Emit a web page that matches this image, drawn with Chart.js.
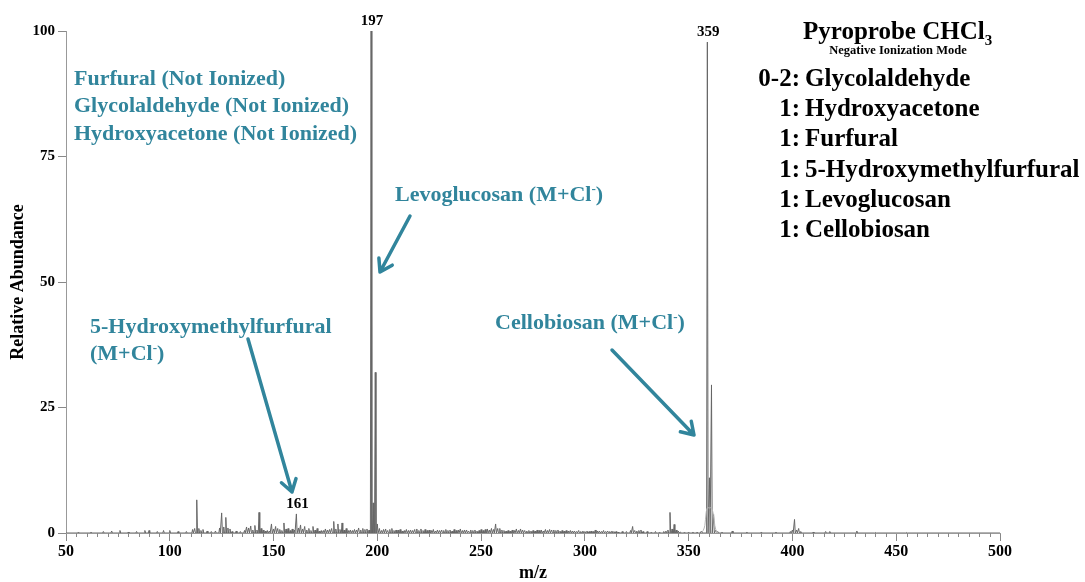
<!DOCTYPE html>
<html>
<head>
<meta charset="utf-8">
<script src="https://cdn.jsdelivr.net/npm/chart.js@4.4.1/dist/chart.umd.min.js"></script>
<style>
  html, body { margin: 0; padding: 0; background: #ffffff; }
  #wrap { width: 1085px; height: 582px; }
</style>
</head>
<body>
<div id="wrap"><canvas id="ms" width="1085" height="582"></canvas></div>
<script>
// Centroid peaks of the negative-ion pyroprobe spectrum (m/z, relative abundance %)
const peakMz = [
  56, 62, 68, 72, 76, 80, 84, 88, 90, 94, 97, 100, 104, 108, 111, 112,
  113, 114, 115, 116, 118, 120, 122, 124, 125, 126, 127, 128, 129, 130, 132, 134, 136,
  137, 138, 139, 140, 141, 142, 143, 144, 145, 146, 147, 148, 149, 150, 151, 152, 153,
  154, 155, 156, 157, 158, 159, 160, 161, 162, 163, 164, 165, 166, 167, 168, 169, 170,
  171, 172, 173, 174, 175, 176, 177, 178, 179, 180, 181, 182, 183, 184, 185, 186, 187,
  188, 189, 190, 191, 192, 193, 194, 195, 196, 197, 198, 199, 200, 201, 202, 203, 204,
  205, 206, 207, 208, 209, 210, 211, 212, 213, 214, 215, 216, 217, 218, 219, 220, 221,
  222, 223, 224, 225, 226, 227, 228, 229, 230, 231, 232, 233, 234, 235, 236, 237, 238,
  239, 240, 241, 242, 243, 244, 245, 246, 247, 248, 249, 250, 251, 252, 253, 254, 255,
  256, 257, 258, 259, 260, 261, 262, 263, 264, 265, 266, 267, 268, 269, 270, 271, 272,
  273, 274, 275, 276, 277, 278, 279, 280, 281, 282, 283, 284, 285, 286, 287, 288, 289,
  290, 291, 292, 293, 294, 295, 296, 297, 298, 299, 300, 301, 302, 303, 304, 305, 306,
  307, 308, 309, 310, 311, 312, 313, 314, 315, 316, 318, 320, 322, 323, 324, 325, 326,
  327, 328, 330, 332, 334, 336, 338, 339, 340, 341, 342, 343, 344, 345, 346, 348, 350,
  352, 354, 356, 359, 360, 361, 362, 363, 364, 366, 371, 378, 385, 392, 399, 400, 401,
  402, 403, 404, 410, 416, 418, 431, 440, 455
];
const peakAbundance = [
  0.2, 0.2, 0.3, 0.4, 0.5, 0.2, 0.3, 0.5, 0.5, 0.3, 0.5, 0.5, 0.3, 0.3, 0.7, 0.9,
  6.6, 0.9, 0.5, 0.7, 0.4, 0.3, 0.4, 1.0, 4.0, 1.2, 3.1, 1.0, 0.8, 0.3, 0.4, 0.3, 0.5,
  1.2, 1.0, 1.4, 0.6, 1.5, 0.6, 4.1, 0.9, 0.6, 0.4, 0.5, 0.4, 1.8, 0.8, 1.3, 0.9, 0.7,
  0.5, 2.0, 0.8, 0.9, 0.5, 0.8, 0.6, 3.8, 1.0, 1.6, 0.8, 1.3, 0.6, 0.9, 0.5, 1.3, 0.6,
  0.9, 0.4, 0.5, 0.5, 0.8, 0.6, 0.7, 0.9, 2.3, 0.8, 1.8, 0.7, 2.0, 0.6, 0.9, 0.5, 0.6,
  0.5, 0.7, 0.6, 1.0, 0.6, 0.9, 0.7, 0.8, 0.6, 100, 6.0, 32, 1.8, 0.9, 0.5, 0.7, 0.8,
  0.5, 0.7, 0.9, 0.5, 0.6, 0.6, 0.7, 0.4, 0.5, 0.7, 0.5, 0.6, 0.5, 0.7, 0.8, 0.5, 0.8,
  0.5, 0.7, 0.5, 0.6, 0.5, 0.7, 0.4, 0.6, 0.5, 0.6, 0.5, 0.7, 0.5, 0.6, 0.4, 0.7, 0.5,
  0.6, 0.8, 0.5, 0.6, 0.6, 0.4, 0.6, 0.5, 0.6, 0.4, 0.5, 0.7, 0.5, 0.7, 0.8, 0.6, 0.9,
  0.7, 1.8, 0.9, 0.9, 0.6, 0.5, 0.4, 0.5, 0.4, 0.6, 0.5, 0.8, 0.5, 0.8, 0.6, 0.5, 0.4,
  0.5, 0.4, 0.5, 0.4, 0.6, 0.5, 0.6, 0.4, 0.7, 0.5, 0.7, 0.6, 0.6, 0.5, 0.6, 0.4, 0.5,
  0.4, 0.5, 0.4, 0.5, 0.4, 0.4, 0.3, 0.5, 0.3, 0.4, 0.3, 0.4, 0.3, 0.4, 0.3, 0.6, 0.4,
  0.4, 0.3, 0.5, 0.3, 0.4, 0.3, 0.4, 0.3, 0.3, 0.2, 0.3, 0.3, 0.5, 1.3, 0.5, 0.4, 0.5,
  0.6, 0.3, 0.3, 0.2, 0.3, 0.2, 0.3, 0.4, 0.6, 4.1, 0.8, 1.7, 0.6, 0.4, 0.2, 0.2, 0.2,
  0.2, 0.2, 0.3, 97.8, 11, 29.5, 3.8, 0.6, 0.3, 0.2, 0.4, 0.2, 0.2, 0.2, 0.3, 0.6, 2.7,
  0.6, 0.9, 0.3, 0.2, 0.3, 0.3, 0.4, 0.1, 0.1
];
// Broad unresolved base under the m/z 359 cluster
const baseMz = [356.0, 357.0, 357.8, 358.4, 359.0, 360.0, 361.0, 362.0, 362.6, 363.5];
const baseAbundance = [0, 0.5, 1.5, 4.0, 5.0, 5.0, 5.0, 3.5, 1.5, 0];

// Axis settings
const xMin = 50, xMax = 500, xStep = 50, xMinorStep = 5;
const yMin = 0, yMax = 100, yStep = 25;
// m/z values that carry a numeric label above their peak
const labelledMz = [197, 359, 161];

const SERIF = "'Liberation Serif', 'Times New Roman', serif";
const TEAL = '#31859c';

// profile trace: each centroid drawn as a narrow spike from the baseline
const trace = [{ x: xMin, y: 0 }];
peakMz.forEach((m, i) => {
  trace.push({ x: m - 0.35, y: 0 }, { x: m, y: peakAbundance[i] }, { x: m + 0.35, y: 0 });
});
trace.push({ x: xMax, y: 0 });
const baseTrace = baseMz.map((m, i) => ({ x: m, y: baseAbundance[i] }));

function richText(ctx, x, y, parts, size, color) {
  ctx.fillStyle = color;
  ctx.textAlign = 'left';
  ctx.textBaseline = 'alphabetic';
  let cx = x;
  parts.forEach(p => {
    const s = p.sup || p.sub ? Math.round(size * 0.6) : size;
    ctx.font = 'bold ' + s + 'px ' + SERIF;
    const dy = p.sup ? -size * 0.38 : (p.sub ? size * 0.22 : 0);
    ctx.fillText(p.t, cx, y + dy);
    cx += ctx.measureText(p.t).width;
  });
}

function arrow(ctx, x1, y1, x2, y2) {
  const a = Math.atan2(y2 - y1, x2 - x1);
  const head = 14, spread = Math.PI / 5.5;
  ctx.save();
  ctx.strokeStyle = TEAL;
  ctx.lineWidth = 3.5;
  ctx.lineCap = 'round';
  ctx.lineJoin = 'round';
  ctx.beginPath();
  ctx.moveTo(x1, y1);
  ctx.lineTo(x2, y2);
  ctx.moveTo(x2 - head * Math.cos(a - spread), y2 - head * Math.sin(a - spread));
  ctx.lineTo(x2, y2);
  ctx.lineTo(x2 - head * Math.cos(a + spread), y2 - head * Math.sin(a + spread));
  ctx.stroke();
  ctx.restore();
}

const decorations = {
  id: 'decorations',
  afterDraw(chart) {
    const ctx = chart.ctx;
    const xs = chart.scales.x, ys = chart.scales.y;
    const area = chart.chartArea;
    ctx.save();

    // minor x ticks
    ctx.strokeStyle = '#888';
    ctx.lineWidth = 1;
    ctx.beginPath();
    for (let v = xMin; v <= xMax; v += xMinorStep) {
      if (v % xStep === 0) continue;
      const px = Math.round(xs.getPixelForValue(v)) + 0.5;
      ctx.moveTo(px, area.bottom);
      ctx.lineTo(px, area.bottom + 4);
    }
    ctx.stroke();

    // peak labels
    ctx.fillStyle = '#000';
    ctx.font = 'bold 15px ' + SERIF;
    ctx.textAlign = 'center';
    ctx.textBaseline = 'alphabetic';
    labelledMz.forEach(m => {
      const h = peakAbundance[peakMz.indexOf(m)];
      ctx.fillText(String(m), xs.getPixelForValue(m) + 1, ys.getPixelForValue(h) - 6);
    });

    // axis titles
    ctx.font = 'bold 18px ' + SERIF;
    ctx.textBaseline = 'middle';
    ctx.fillText('m/z', (area.left + area.right) / 2, 573);
    ctx.save();
    ctx.translate(18, (area.top + area.bottom) / 2);
    ctx.rotate(-Math.PI / 2);
    ctx.fillText('Relative Abundance', 0, 0);
    ctx.restore();

    // compound annotations
    richText(ctx, 74, 85, [{ t: 'Furfural (Not Ionized)' }], 22, TEAL);
    richText(ctx, 74, 112, [{ t: 'Glycolaldehyde (Not Ionized)' }], 22, TEAL);
    richText(ctx, 74, 140, [{ t: 'Hydroxyacetone (Not Ionized)' }], 22, TEAL);
    richText(ctx, 395, 201, [{ t: 'Levoglucosan (M+Cl' }, { t: '-', sup: true }, { t: ')' }], 22, TEAL);
    richText(ctx, 90, 333, [{ t: '5-Hydroxymethylfurfural' }], 22, TEAL);
    richText(ctx, 90, 360, [{ t: '(M+Cl' }, { t: '-', sup: true }, { t: ')' }], 22, TEAL);
    richText(ctx, 495, 329, [{ t: 'Cellobiosan (M+Cl' }, { t: '-', sup: true }, { t: ')' }], 22, TEAL);

    arrow(ctx, 410, 216, 380, 272);
    arrow(ctx, 248, 339, 292, 492);
    arrow(ctx, 612, 350, 694, 435);

    // sample description block
    richText(ctx, 803, 39, [{ t: 'Pyroprobe CHCl' }, { t: '3', sub: true }], 25, '#000');
    ctx.fillStyle = '#000';
    ctx.font = 'bold 12.5px ' + SERIF;
    ctx.textAlign = 'center';
    ctx.textBaseline = 'alphabetic';
    ctx.fillText('Negative Ionization Mode', 898, 54);

    const rows = [
      ['0-2:', 'Glycolaldehyde'],
      ['1:', 'Hydroxyacetone'],
      ['1:', 'Furfural'],
      ['1:', '5-Hydroxymethylfurfural'],
      ['1:', 'Levoglucosan'],
      ['1:', 'Cellobiosan']
    ];
    ctx.font = 'bold 25px ' + SERIF;
    rows.forEach((r, i) => {
      const y = 86 + i * 30.2;
      ctx.textAlign = 'right';
      ctx.fillText(r[0], 800, y);
      ctx.textAlign = 'left';
      ctx.fillText(r[1], 805, y);
    });
    ctx.restore();
  }
};

new Chart(document.getElementById('ms'), {
  type: 'line',
  data: {
    datasets: [
      {
        data: baseTrace,
        borderColor: '#b5b5b5',
        borderWidth: 1,
        pointRadius: 0,
        tension: 0.3,
        fill: false
      },
      {
        data: trace,
        borderColor: '#666666',
        borderWidth: 1,
        pointRadius: 0,
        tension: 0,
        fill: false
      }
    ]
  },
  options: {
    responsive: false,
    animation: false,
    devicePixelRatio: 1,
    layout: { padding: { top: 31, right: 85, left: 0, bottom: 0 } },
    plugins: { legend: { display: false }, tooltip: { enabled: false } },
    scales: {
      x: {
        type: 'linear',
        min: xMin,
        max: xMax,
        ticks: {
          stepSize: xStep,
          autoSkip: false,
          maxRotation: 0,
          padding: 1,
          color: '#000',
          font: { family: SERIF, size: 16, weight: 'bold' }
        },
        grid: { display: true, drawOnChartArea: false, tickLength: 8, tickColor: '#888' },
        border: { display: true, color: '#999' },
        afterFit(scale) { scale.height = 49; }
      },
      y: {
        min: yMin,
        max: yMax,
        ticks: {
          stepSize: yStep,
          padding: 3,
          color: '#000',
          font: { family: SERIF, size: 15, weight: 'bold' }
        },
        grid: { display: true, drawOnChartArea: false, tickLength: 8, tickColor: '#888' },
        border: { display: true, color: '#999' },
        afterFit(scale) { scale.width = 66; }
      }
    }
  },
  plugins: [decorations]
});
</script>
</body>
</html>
